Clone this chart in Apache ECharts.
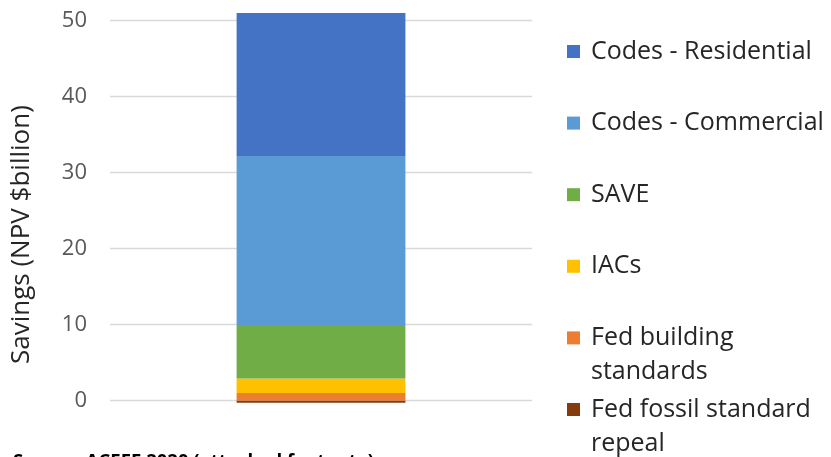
<!DOCTYPE html>
<html>
<head>
<meta charset="utf-8">
<script src="https://cdn.jsdelivr.net/npm/echarts@6/dist/echarts.min.js"></script>
<style>
  html, body { margin: 0; padding: 0; background: #fff; }
  #chart { width: 831px; height: 457px; }
</style>
</head>
<body>
<div id="chart"></div>
<script>
// 数据（从下往上堆叠）
const categories = [''];
const seriesNames = ['Fed fossil standard repeal', 'Fed building standards', 'IACs', 'SAVE', 'Codes - Commercial', 'Codes - Residential'];
const seriesValues = [[-0.3], [1.0], [1.9], [6.9], [22.4], [18.8]];
const colors = ['#843C0C', '#ED7D31', '#FFC000', '#70AD47', '#5B9BD5', '#4472C4'];
// 图例显示文字（两行的项）
const legendLabels = {
    'Fed building standards': 'Fed building\nstandards',
    'Fed fossil standard repeal': 'Fed fossil standard\nrepeal'
};
const yTicks = [0, 10, 20, 30, 40, 50];

const chart = echarts.init(document.getElementById('chart'));
const font = '"Open Sans", sans-serif';

// 图例从上往下：Residential 在最上面
const legendOrder = seriesNames.slice().reverse();
const legends = legendOrder.map(function (name, i) {
    const twoLine = !!legendLabels[name];
    const center = 51.5 + i * 71.6;   // 第一行中心位置
    return {
        data: [name],
        orient: 'vertical',
        left: 567,
        top: twoLine ? center - 51 : center - 17,
        padding: 0,
        icon: 'rect',
        itemWidth: 13,
        itemHeight: 13,
        itemGap: 0,
        selectedMode: false,
        formatter: function (n) {
            // 多加一个空行，让第一行跟图标对齐
            return legendLabels[n] ? ' \n' + legendLabels[n] : n;
        },
        textStyle: {
            fontFamily: font,
            fontSize: 25,
            lineHeight: 34,
            color: '#262626',
            padding: [0, 0, 0, 6]
        }
    };
});

const option = {
    backgroundColor: '#fff',
    animation: false,
    color: colors,
    grid: {
        left: 110,
        right: 299,
        top: 20.7,
        bottom: 56.5
    },
    legend: legends,
    xAxis: {
        type: 'category',
        data: categories,
        axisLine: { show: false },
        axisTick: { show: false },
        axisLabel: { show: false }
    },
    yAxis: {
        type: 'value',
        min: yTicks[0],
        max: yTicks[yTicks.length - 1],
        interval: 10,
        name: 'Savings (NPV $billion)',
        nameLocation: 'middle',
        nameGap: 75,
        nameRotate: 90,
        nameTextStyle: {
            fontFamily: font,
            fontSize: 26,
            color: '#262626',
            padding: [0, 0, 0, -48]
        },
        axisLine: { show: false },
        axisTick: { show: false },
        axisLabel: {
            fontFamily: font,
            fontSize: 22,
            color: '#595959',
            margin: 23
        },
        splitLine: {
            lineStyle: { color: '#D9D9D9', width: 1.3 }
        }
    },
    graphic: [{
        type: 'text',
        left: 13,
        top: 452,
        style: {
            text: 'Source: ACEEE 2020 (attached footnote)',
            fontFamily: font,
            fontSize: 18.5,
            fontWeight: 'bold',
            fill: '#000'
        }
    }],
    series: seriesNames.map(function (name, i) {
        return {
            name: name,
            type: 'bar',
            stack: 'total',
            barWidth: '40%',
            clip: false,
            data: seriesValues[i],
            itemStyle: { color: colors[i] }
        };
    })
};

chart.setOption(option);
</script>
</body>
</html>
